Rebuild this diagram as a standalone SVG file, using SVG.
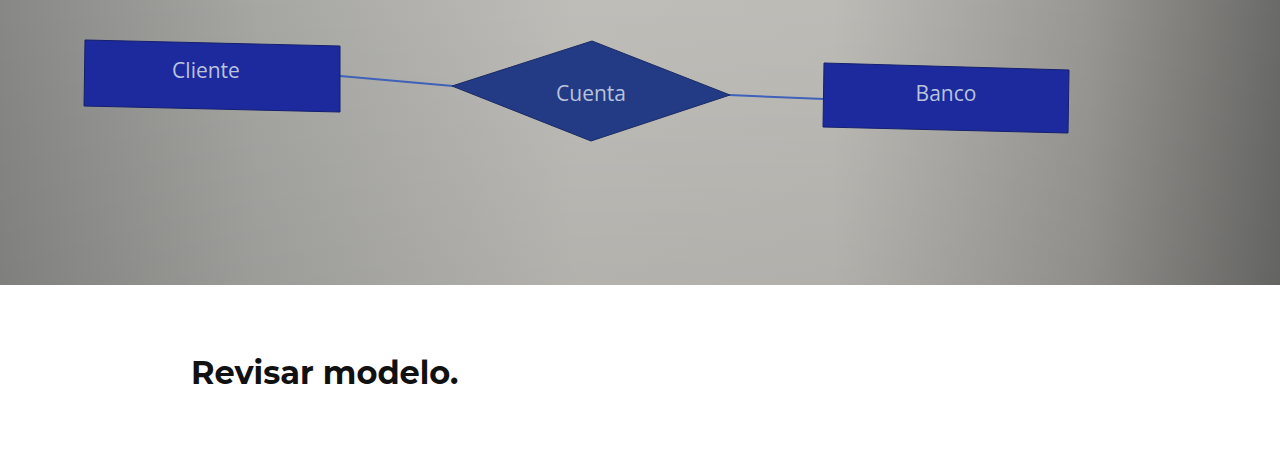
<svg xmlns="http://www.w3.org/2000/svg" width="1280" height="470" viewBox="0 0 1280 470">
<defs>
<linearGradient id="bg" x1="0" y1="0" x2="1" y2="0">
<stop offset="0" stop-color="#8a8a88"/>
<stop offset="0.2" stop-color="#a9a9a6"/>
<stop offset="0.45" stop-color="#c2c1bc"/>
<stop offset="0.65" stop-color="#c0bfba"/>
<stop offset="0.85" stop-color="#9b9a96"/>
<stop offset="1" stop-color="#6c6c6a"/>
</linearGradient>
<linearGradient id="vshade" x1="0" y1="0" x2="0" y2="1">
<stop offset="0" stop-color="#000" stop-opacity="0.02"/>
<stop offset="1" stop-color="#000" stop-opacity="0.08"/>
</linearGradient>
<style>
.ent{fill:#1c2a9e;stroke:#15206e;stroke-width:1}
.rel{fill:#233a84;stroke:#1b2c66;stroke-width:1}
.lbl{font-family:"Open Sans","Liberation Sans",sans-serif;font-size:21px;fill:#b9c3da;text-anchor:middle}
.conn{stroke:#3f62b8;stroke-width:2;fill:none}
</style>
</defs>
<rect x="0" y="0" width="1280" height="285" fill="url(#bg)"/>
<rect x="0" y="0" width="1280" height="285" fill="url(#vshade)"/>
<rect x="0" y="285" width="1280" height="185" fill="#ffffff"/>
<g id="connectors">
<line class="conn" x1="340" y1="76" x2="453" y2="86"/>
<line class="conn" x1="729" y1="95" x2="824" y2="99"/>
</g>
<g id="cliente">
<polygon class="ent" points="85,40 340,46 340,112 84,106"/>
<text class="lbl" x="206" y="78">Cliente</text>
</g>
<g id="cuenta">
<polygon class="rel" points="452,86 592,41 730,95 591,141"/>
<text class="lbl" x="591" y="101">Cuenta</text>
</g>
<g id="banco">
<polygon class="ent" points="824,63 1069,70 1068,133 823,127"/>
<text class="lbl" x="946" y="101">Banco</text>
</g>
<text x="191" y="384" font-family="Montserrat,'Open Sans','Liberation Sans',sans-serif" font-weight="bold" font-size="32" fill="#111111">Revisar modelo.</text>
</svg>
